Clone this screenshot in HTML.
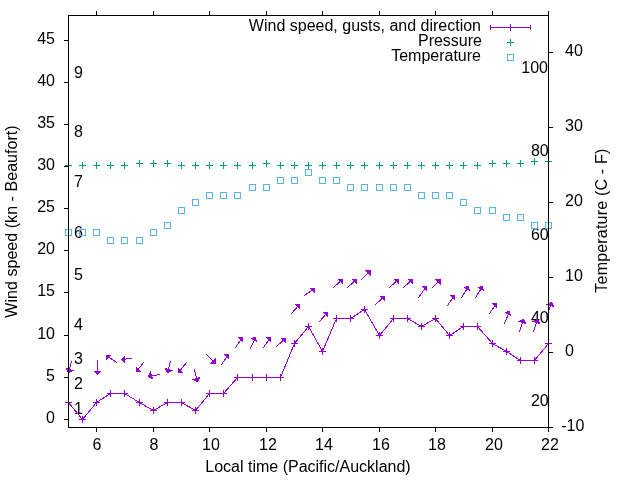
<!DOCTYPE html>
<html><head><meta charset="utf-8"><title>Wind plot</title>
<style>
html,body{margin:0;padding:0;background:#fff;}
svg{display:block;}
text{font-family:"Liberation Sans",sans-serif;font-size:16px;fill:#000;}
</style></head><body>
<svg width="640" height="480" viewBox="0 0 640 480" shape-rendering="crispEdges">
<rect x="0" y="0" width="640" height="480" fill="#fff"/>
<text x="481" y="31" text-anchor="end">Wind speed, gusts, and direction</text>
<text x="482" y="46" text-anchor="end">Pressure</text>
<text x="481" y="61" text-anchor="end">Temperature</text>
<text x="74" y="414" text-anchor="start">1</text>
<text x="74" y="389" text-anchor="start">2</text>
<text x="74" y="364" text-anchor="start">3</text>
<text x="74" y="330" text-anchor="start">4</text>
<text x="74" y="280" text-anchor="start">5</text>
<text x="74" y="238" text-anchor="start">6</text>
<text x="74" y="187" text-anchor="start">7</text>
<text x="74" y="137" text-anchor="start">8</text>
<text x="74" y="78" text-anchor="start">9</text>
<text x="548.7" y="406" text-anchor="end">20</text>
<text x="548.7" y="323" text-anchor="end">40</text>
<text x="548.7" y="240" text-anchor="end">60</text>
<text x="548.7" y="156" text-anchor="end">80</text>
<text x="548" y="73" text-anchor="end">100</text>
<polyline points="68.5,402.5 82.5,419.5 96.5,402.5 110.5,393.5 124.5,393.5 139.5,402.5 153.5,410.5 167.5,402.5 181.5,402.5 195.5,410.5 209.5,393.5 223.5,393.5 237.5,377.5 252.5,377.5 266.5,377.5 280.5,377.5 294.5,343.5 308.5,326.5 322.5,351.5 336.5,318.5 350.5,318.5 364.5,309.5 379.5,335.5 393.5,318.5 407.5,318.5 421.5,326.5 435.5,318.5 449.5,335.5 463.5,326.5 477.5,326.5 492.5,343.5 506.5,351.5 520.5,360.5 534.5,360.5 548.5,343.5" fill="none" stroke="#9400D3" stroke-width="1"/>
<rect x="65" y="402" width="7" height="1" fill="#9400D3"/>
<rect x="68" y="399" width="1" height="7" fill="#9400D3"/>
<rect x="79" y="419" width="7" height="1" fill="#9400D3"/>
<rect x="82" y="416" width="1" height="7" fill="#9400D3"/>
<rect x="93" y="402" width="7" height="1" fill="#9400D3"/>
<rect x="96" y="399" width="1" height="7" fill="#9400D3"/>
<rect x="107" y="393" width="7" height="1" fill="#9400D3"/>
<rect x="110" y="390" width="1" height="7" fill="#9400D3"/>
<rect x="121" y="393" width="7" height="1" fill="#9400D3"/>
<rect x="124" y="390" width="1" height="7" fill="#9400D3"/>
<rect x="136" y="402" width="7" height="1" fill="#9400D3"/>
<rect x="139" y="399" width="1" height="7" fill="#9400D3"/>
<rect x="150" y="410" width="7" height="1" fill="#9400D3"/>
<rect x="153" y="407" width="1" height="7" fill="#9400D3"/>
<rect x="164" y="402" width="7" height="1" fill="#9400D3"/>
<rect x="167" y="399" width="1" height="7" fill="#9400D3"/>
<rect x="178" y="402" width="7" height="1" fill="#9400D3"/>
<rect x="181" y="399" width="1" height="7" fill="#9400D3"/>
<rect x="192" y="410" width="7" height="1" fill="#9400D3"/>
<rect x="195" y="407" width="1" height="7" fill="#9400D3"/>
<rect x="206" y="393" width="7" height="1" fill="#9400D3"/>
<rect x="209" y="390" width="1" height="7" fill="#9400D3"/>
<rect x="220" y="393" width="7" height="1" fill="#9400D3"/>
<rect x="223" y="390" width="1" height="7" fill="#9400D3"/>
<rect x="234" y="377" width="7" height="1" fill="#9400D3"/>
<rect x="237" y="374" width="1" height="7" fill="#9400D3"/>
<rect x="249" y="377" width="7" height="1" fill="#9400D3"/>
<rect x="252" y="374" width="1" height="7" fill="#9400D3"/>
<rect x="263" y="377" width="7" height="1" fill="#9400D3"/>
<rect x="266" y="374" width="1" height="7" fill="#9400D3"/>
<rect x="277" y="377" width="7" height="1" fill="#9400D3"/>
<rect x="280" y="374" width="1" height="7" fill="#9400D3"/>
<rect x="291" y="343" width="7" height="1" fill="#9400D3"/>
<rect x="294" y="340" width="1" height="7" fill="#9400D3"/>
<rect x="305" y="326" width="7" height="1" fill="#9400D3"/>
<rect x="308" y="323" width="1" height="7" fill="#9400D3"/>
<rect x="319" y="351" width="7" height="1" fill="#9400D3"/>
<rect x="322" y="348" width="1" height="7" fill="#9400D3"/>
<rect x="333" y="318" width="7" height="1" fill="#9400D3"/>
<rect x="336" y="315" width="1" height="7" fill="#9400D3"/>
<rect x="347" y="318" width="7" height="1" fill="#9400D3"/>
<rect x="350" y="315" width="1" height="7" fill="#9400D3"/>
<rect x="361" y="309" width="7" height="1" fill="#9400D3"/>
<rect x="364" y="306" width="1" height="7" fill="#9400D3"/>
<rect x="376" y="335" width="7" height="1" fill="#9400D3"/>
<rect x="379" y="332" width="1" height="7" fill="#9400D3"/>
<rect x="390" y="318" width="7" height="1" fill="#9400D3"/>
<rect x="393" y="315" width="1" height="7" fill="#9400D3"/>
<rect x="404" y="318" width="7" height="1" fill="#9400D3"/>
<rect x="407" y="315" width="1" height="7" fill="#9400D3"/>
<rect x="418" y="326" width="7" height="1" fill="#9400D3"/>
<rect x="421" y="323" width="1" height="7" fill="#9400D3"/>
<rect x="432" y="318" width="7" height="1" fill="#9400D3"/>
<rect x="435" y="315" width="1" height="7" fill="#9400D3"/>
<rect x="446" y="335" width="7" height="1" fill="#9400D3"/>
<rect x="449" y="332" width="1" height="7" fill="#9400D3"/>
<rect x="460" y="326" width="7" height="1" fill="#9400D3"/>
<rect x="463" y="323" width="1" height="7" fill="#9400D3"/>
<rect x="474" y="326" width="7" height="1" fill="#9400D3"/>
<rect x="477" y="323" width="1" height="7" fill="#9400D3"/>
<rect x="489" y="343" width="7" height="1" fill="#9400D3"/>
<rect x="492" y="340" width="1" height="7" fill="#9400D3"/>
<rect x="503" y="351" width="7" height="1" fill="#9400D3"/>
<rect x="506" y="348" width="1" height="7" fill="#9400D3"/>
<rect x="517" y="360" width="7" height="1" fill="#9400D3"/>
<rect x="520" y="357" width="1" height="7" fill="#9400D3"/>
<rect x="531" y="360" width="7" height="1" fill="#9400D3"/>
<rect x="534" y="357" width="1" height="7" fill="#9400D3"/>
<rect x="545" y="343" width="7" height="1" fill="#9400D3"/>
<rect x="548" y="340" width="1" height="7" fill="#9400D3"/>
<rect x="490" y="27" width="41" height="1" fill="#9400D3"/>
<rect x="490" y="25" width="1" height="5" fill="#9400D3"/>
<rect x="530" y="25" width="1" height="5" fill="#9400D3"/>
<rect x="510" y="24" width="1" height="7" fill="#9400D3"/>
<line x1="71.5" y1="361.5" x2="68.5" y2="372.5" stroke="#9400D3" stroke-width="1" stroke-linecap="square"/>
<polygon points="68.5,372.5 66.5,368.5 72.5,370.5" fill="#9400D3" stroke="#9400D3" stroke-width="1" stroke-linejoin="miter"/>
<line x1="97.5" y1="360.5" x2="97.5" y2="374.5" stroke="#9400D3" stroke-width="1" stroke-linecap="square"/>
<polygon points="97.5,374.5 94.5,371.5 100.5,371.5" fill="#9400D3" stroke="#9400D3" stroke-width="1" stroke-linejoin="miter"/>
<line x1="116.5" y1="362.5" x2="106.5" y2="355.5" stroke="#9400D3" stroke-width="1" stroke-linecap="square"/>
<polygon points="106.5,355.5 110.5,355.5 106.5,359.5" fill="#9400D3" stroke="#9400D3" stroke-width="1" stroke-linejoin="miter"/>
<line x1="131.5" y1="358.5" x2="121.5" y2="359.5" stroke="#9400D3" stroke-width="1" stroke-linecap="square"/>
<polygon points="121.5,359.5 124.5,356.5 124.5,362.5" fill="#9400D3" stroke="#9400D3" stroke-width="1" stroke-linejoin="miter"/>
<line x1="143.5" y1="362.5" x2="136.5" y2="371.5" stroke="#9400D3" stroke-width="1" stroke-linecap="square"/>
<polygon points="136.5,371.5 136.5,367.5 140.5,371.5" fill="#9400D3" stroke="#9400D3" stroke-width="1" stroke-linejoin="miter"/>
<line x1="159.5" y1="374.5" x2="148.5" y2="376.5" stroke="#9400D3" stroke-width="1" stroke-linecap="square"/>
<polygon points="148.5,376.5 150.5,372.5 152.5,378.5" fill="#9400D3" stroke="#9400D3" stroke-width="1" stroke-linejoin="miter"/>
<line x1="170.5" y1="361.5" x2="167.5" y2="372.5" stroke="#9400D3" stroke-width="1" stroke-linecap="square"/>
<polygon points="167.5,372.5 165.5,368.5 171.5,370.5" fill="#9400D3" stroke="#9400D3" stroke-width="1" stroke-linejoin="miter"/>
<line x1="186.5" y1="362.5" x2="178.5" y2="372.5" stroke="#9400D3" stroke-width="1" stroke-linecap="square"/>
<polygon points="178.5,372.5 178.5,368.5 182.5,372.5" fill="#9400D3" stroke="#9400D3" stroke-width="1" stroke-linejoin="miter"/>
<line x1="194.5" y1="369.5" x2="197.5" y2="381.5" stroke="#9400D3" stroke-width="1" stroke-linecap="square"/>
<polygon points="197.5,381.5 193.5,379.5 199.5,377.5" fill="#9400D3" stroke="#9400D3" stroke-width="1" stroke-linejoin="miter"/>
<line x1="206.5" y1="354.5" x2="215.5" y2="363.5" stroke="#9400D3" stroke-width="1" stroke-linecap="square"/>
<polygon points="215.5,363.5 210.5,363.5 215.5,358.5" fill="#9400D3" stroke="#9400D3" stroke-width="1" stroke-linejoin="miter"/>
<line x1="221.5" y1="364.5" x2="228.5" y2="354.5" stroke="#9400D3" stroke-width="1" stroke-linecap="square"/>
<polygon points="228.5,354.5 228.5,358.5 224.5,354.5" fill="#9400D3" stroke="#9400D3" stroke-width="1" stroke-linejoin="miter"/>
<line x1="235.5" y1="347.5" x2="242.5" y2="337.5" stroke="#9400D3" stroke-width="1" stroke-linecap="square"/>
<polygon points="242.5,337.5 242.5,341.5 238.5,337.5" fill="#9400D3" stroke="#9400D3" stroke-width="1" stroke-linejoin="miter"/>
<line x1="250.5" y1="348.5" x2="255.5" y2="337.5" stroke="#9400D3" stroke-width="1" stroke-linecap="square"/>
<polygon points="255.5,337.5 256.5,341.5 251.5,338.5" fill="#9400D3" stroke="#9400D3" stroke-width="1" stroke-linejoin="miter"/>
<line x1="263.5" y1="347.5" x2="270.5" y2="337.5" stroke="#9400D3" stroke-width="1" stroke-linecap="square"/>
<polygon points="270.5,337.5 270.5,341.5 266.5,337.5" fill="#9400D3" stroke="#9400D3" stroke-width="1" stroke-linejoin="miter"/>
<line x1="276.5" y1="346.5" x2="285.5" y2="338.5" stroke="#9400D3" stroke-width="1" stroke-linecap="square"/>
<polygon points="285.5,338.5 285.5,342.5 281.5,338.5" fill="#9400D3" stroke="#9400D3" stroke-width="1" stroke-linejoin="miter"/>
<line x1="291.5" y1="313.5" x2="299.5" y2="304.5" stroke="#9400D3" stroke-width="1" stroke-linecap="square"/>
<polygon points="299.5,304.5 299.5,308.5 295.5,304.5" fill="#9400D3" stroke="#9400D3" stroke-width="1" stroke-linejoin="miter"/>
<line x1="304.5" y1="295.5" x2="314.5" y2="288.5" stroke="#9400D3" stroke-width="1" stroke-linecap="square"/>
<polygon points="314.5,288.5 314.5,292.5 310.5,288.5" fill="#9400D3" stroke="#9400D3" stroke-width="1" stroke-linejoin="miter"/>
<line x1="319.5" y1="321.5" x2="327.5" y2="312.5" stroke="#9400D3" stroke-width="1" stroke-linecap="square"/>
<polygon points="327.5,312.5 327.5,316.5 323.5,312.5" fill="#9400D3" stroke="#9400D3" stroke-width="1" stroke-linejoin="miter"/>
<line x1="333.5" y1="287.5" x2="342.5" y2="279.5" stroke="#9400D3" stroke-width="1" stroke-linecap="square"/>
<polygon points="342.5,279.5 342.5,283.5 338.5,279.5" fill="#9400D3" stroke="#9400D3" stroke-width="1" stroke-linejoin="miter"/>
<line x1="347.5" y1="287.5" x2="356.5" y2="279.5" stroke="#9400D3" stroke-width="1" stroke-linecap="square"/>
<polygon points="356.5,279.5 356.5,283.5 352.5,279.5" fill="#9400D3" stroke="#9400D3" stroke-width="1" stroke-linejoin="miter"/>
<line x1="361.5" y1="279.5" x2="370.5" y2="270.5" stroke="#9400D3" stroke-width="1" stroke-linecap="square"/>
<polygon points="370.5,270.5 370.5,275.5 365.5,270.5" fill="#9400D3" stroke="#9400D3" stroke-width="1" stroke-linejoin="miter"/>
<line x1="375.5" y1="304.5" x2="384.5" y2="296.5" stroke="#9400D3" stroke-width="1" stroke-linecap="square"/>
<polygon points="384.5,296.5 384.5,300.5 380.5,296.5" fill="#9400D3" stroke="#9400D3" stroke-width="1" stroke-linejoin="miter"/>
<line x1="389.5" y1="287.5" x2="398.5" y2="279.5" stroke="#9400D3" stroke-width="1" stroke-linecap="square"/>
<polygon points="398.5,279.5 398.5,283.5 394.5,279.5" fill="#9400D3" stroke="#9400D3" stroke-width="1" stroke-linejoin="miter"/>
<line x1="403.5" y1="287.5" x2="412.5" y2="279.5" stroke="#9400D3" stroke-width="1" stroke-linecap="square"/>
<polygon points="412.5,279.5 412.5,283.5 408.5,279.5" fill="#9400D3" stroke="#9400D3" stroke-width="1" stroke-linejoin="miter"/>
<line x1="418.5" y1="297.5" x2="426.5" y2="286.5" stroke="#9400D3" stroke-width="1" stroke-linecap="square"/>
<polygon points="426.5,286.5 426.5,290.5 422.5,286.5" fill="#9400D3" stroke="#9400D3" stroke-width="1" stroke-linejoin="miter"/>
<line x1="432.5" y1="287.5" x2="440.5" y2="279.5" stroke="#9400D3" stroke-width="1" stroke-linecap="square"/>
<polygon points="440.5,279.5 440.5,284.5 435.5,279.5" fill="#9400D3" stroke="#9400D3" stroke-width="1" stroke-linejoin="miter"/>
<line x1="447.5" y1="305.5" x2="454.5" y2="295.5" stroke="#9400D3" stroke-width="1" stroke-linecap="square"/>
<polygon points="454.5,295.5 454.5,299.5 450.5,295.5" fill="#9400D3" stroke="#9400D3" stroke-width="1" stroke-linejoin="miter"/>
<line x1="461.5" y1="297.5" x2="468.5" y2="286.5" stroke="#9400D3" stroke-width="1" stroke-linecap="square"/>
<polygon points="468.5,286.5 469.5,290.5 464.5,287.5" fill="#9400D3" stroke="#9400D3" stroke-width="1" stroke-linejoin="miter"/>
<line x1="475.5" y1="297.5" x2="482.5" y2="286.5" stroke="#9400D3" stroke-width="1" stroke-linecap="square"/>
<polygon points="482.5,286.5 483.5,290.5 478.5,287.5" fill="#9400D3" stroke="#9400D3" stroke-width="1" stroke-linejoin="miter"/>
<line x1="489.5" y1="313.5" x2="496.5" y2="303.5" stroke="#9400D3" stroke-width="1" stroke-linecap="square"/>
<polygon points="496.5,303.5 496.5,307.5 492.5,303.5" fill="#9400D3" stroke="#9400D3" stroke-width="1" stroke-linejoin="miter"/>
<line x1="504.5" y1="323.5" x2="509.5" y2="311.5" stroke="#9400D3" stroke-width="1" stroke-linecap="square"/>
<polygon points="509.5,311.5 510.5,315.5 505.5,312.5" fill="#9400D3" stroke="#9400D3" stroke-width="1" stroke-linejoin="miter"/>
<line x1="519.5" y1="331.5" x2="523.5" y2="319.5" stroke="#9400D3" stroke-width="1" stroke-linecap="square"/>
<polygon points="523.5,319.5 525.5,323.5 519.5,321.5" fill="#9400D3" stroke="#9400D3" stroke-width="1" stroke-linejoin="miter"/>
<line x1="533.5" y1="331.5" x2="537.5" y2="319.5" stroke="#9400D3" stroke-width="1" stroke-linecap="square"/>
<polygon points="537.5,319.5 539.5,323.5 533.5,321.5" fill="#9400D3" stroke="#9400D3" stroke-width="1" stroke-linejoin="miter"/>
<line x1="547.5" y1="314.5" x2="551.5" y2="302.5" stroke="#9400D3" stroke-width="1" stroke-linecap="square"/>
<polygon points="551.5,302.5 553.5,306.5 547.5,304.5" fill="#9400D3" stroke="#9400D3" stroke-width="1" stroke-linejoin="miter"/>
<rect x="65" y="165" width="7" height="1" fill="#009E73"/>
<rect x="68" y="162" width="1" height="7" fill="#009E73"/>
<rect x="79" y="165" width="7" height="1" fill="#009E73"/>
<rect x="82" y="162" width="1" height="7" fill="#009E73"/>
<rect x="93" y="165" width="7" height="1" fill="#009E73"/>
<rect x="96" y="162" width="1" height="7" fill="#009E73"/>
<rect x="107" y="165" width="7" height="1" fill="#009E73"/>
<rect x="110" y="162" width="1" height="7" fill="#009E73"/>
<rect x="121" y="165" width="7" height="1" fill="#009E73"/>
<rect x="124" y="162" width="1" height="7" fill="#009E73"/>
<rect x="136" y="163" width="7" height="1" fill="#009E73"/>
<rect x="139" y="160" width="1" height="7" fill="#009E73"/>
<rect x="150" y="163" width="7" height="1" fill="#009E73"/>
<rect x="153" y="160" width="1" height="7" fill="#009E73"/>
<rect x="164" y="163" width="7" height="1" fill="#009E73"/>
<rect x="167" y="160" width="1" height="7" fill="#009E73"/>
<rect x="178" y="165" width="7" height="1" fill="#009E73"/>
<rect x="181" y="162" width="1" height="7" fill="#009E73"/>
<rect x="192" y="165" width="7" height="1" fill="#009E73"/>
<rect x="195" y="162" width="1" height="7" fill="#009E73"/>
<rect x="206" y="165" width="7" height="1" fill="#009E73"/>
<rect x="209" y="162" width="1" height="7" fill="#009E73"/>
<rect x="220" y="165" width="7" height="1" fill="#009E73"/>
<rect x="223" y="162" width="1" height="7" fill="#009E73"/>
<rect x="234" y="165" width="7" height="1" fill="#009E73"/>
<rect x="237" y="162" width="1" height="7" fill="#009E73"/>
<rect x="249" y="165" width="7" height="1" fill="#009E73"/>
<rect x="252" y="162" width="1" height="7" fill="#009E73"/>
<rect x="263" y="163" width="7" height="1" fill="#009E73"/>
<rect x="266" y="160" width="1" height="7" fill="#009E73"/>
<rect x="277" y="165" width="7" height="1" fill="#009E73"/>
<rect x="280" y="162" width="1" height="7" fill="#009E73"/>
<rect x="291" y="165" width="7" height="1" fill="#009E73"/>
<rect x="294" y="162" width="1" height="7" fill="#009E73"/>
<rect x="305" y="165" width="7" height="1" fill="#009E73"/>
<rect x="308" y="162" width="1" height="7" fill="#009E73"/>
<rect x="319" y="165" width="7" height="1" fill="#009E73"/>
<rect x="322" y="162" width="1" height="7" fill="#009E73"/>
<rect x="333" y="165" width="7" height="1" fill="#009E73"/>
<rect x="336" y="162" width="1" height="7" fill="#009E73"/>
<rect x="347" y="165" width="7" height="1" fill="#009E73"/>
<rect x="350" y="162" width="1" height="7" fill="#009E73"/>
<rect x="361" y="165" width="7" height="1" fill="#009E73"/>
<rect x="364" y="162" width="1" height="7" fill="#009E73"/>
<rect x="376" y="165" width="7" height="1" fill="#009E73"/>
<rect x="379" y="162" width="1" height="7" fill="#009E73"/>
<rect x="390" y="165" width="7" height="1" fill="#009E73"/>
<rect x="393" y="162" width="1" height="7" fill="#009E73"/>
<rect x="404" y="165" width="7" height="1" fill="#009E73"/>
<rect x="407" y="162" width="1" height="7" fill="#009E73"/>
<rect x="418" y="165" width="7" height="1" fill="#009E73"/>
<rect x="421" y="162" width="1" height="7" fill="#009E73"/>
<rect x="432" y="165" width="7" height="1" fill="#009E73"/>
<rect x="435" y="162" width="1" height="7" fill="#009E73"/>
<rect x="446" y="165" width="7" height="1" fill="#009E73"/>
<rect x="449" y="162" width="1" height="7" fill="#009E73"/>
<rect x="460" y="165" width="7" height="1" fill="#009E73"/>
<rect x="463" y="162" width="1" height="7" fill="#009E73"/>
<rect x="474" y="165" width="7" height="1" fill="#009E73"/>
<rect x="477" y="162" width="1" height="7" fill="#009E73"/>
<rect x="489" y="163" width="7" height="1" fill="#009E73"/>
<rect x="492" y="160" width="1" height="7" fill="#009E73"/>
<rect x="503" y="163" width="7" height="1" fill="#009E73"/>
<rect x="506" y="160" width="1" height="7" fill="#009E73"/>
<rect x="517" y="163" width="7" height="1" fill="#009E73"/>
<rect x="520" y="160" width="1" height="7" fill="#009E73"/>
<rect x="531" y="161" width="7" height="1" fill="#009E73"/>
<rect x="534" y="158" width="1" height="7" fill="#009E73"/>
<rect x="545" y="161" width="7" height="1" fill="#009E73"/>
<rect x="548" y="158" width="1" height="7" fill="#009E73"/>
<rect x="507" y="42" width="7" height="1" fill="#009E73"/>
<rect x="510" y="39" width="1" height="7" fill="#009E73"/>
<rect x="65.5" y="229.5" width="6" height="6" fill="none" stroke="#56B4E9" stroke-width="1"/>
<rect x="79.5" y="229.5" width="6" height="6" fill="none" stroke="#56B4E9" stroke-width="1"/>
<rect x="93.5" y="229.5" width="6" height="6" fill="none" stroke="#56B4E9" stroke-width="1"/>
<rect x="107.5" y="237.5" width="6" height="6" fill="none" stroke="#56B4E9" stroke-width="1"/>
<rect x="121.5" y="237.5" width="6" height="6" fill="none" stroke="#56B4E9" stroke-width="1"/>
<rect x="136.5" y="237.5" width="6" height="6" fill="none" stroke="#56B4E9" stroke-width="1"/>
<rect x="150.5" y="229.5" width="6" height="6" fill="none" stroke="#56B4E9" stroke-width="1"/>
<rect x="164.5" y="222.5" width="6" height="6" fill="none" stroke="#56B4E9" stroke-width="1"/>
<rect x="178.5" y="207.5" width="6" height="6" fill="none" stroke="#56B4E9" stroke-width="1"/>
<rect x="192.5" y="199.5" width="6" height="6" fill="none" stroke="#56B4E9" stroke-width="1"/>
<rect x="206.5" y="192.5" width="6" height="6" fill="none" stroke="#56B4E9" stroke-width="1"/>
<rect x="220.5" y="192.5" width="6" height="6" fill="none" stroke="#56B4E9" stroke-width="1"/>
<rect x="234.5" y="192.5" width="6" height="6" fill="none" stroke="#56B4E9" stroke-width="1"/>
<rect x="249.5" y="184.5" width="6" height="6" fill="none" stroke="#56B4E9" stroke-width="1"/>
<rect x="263.5" y="184.5" width="6" height="6" fill="none" stroke="#56B4E9" stroke-width="1"/>
<rect x="277.5" y="177.5" width="6" height="6" fill="none" stroke="#56B4E9" stroke-width="1"/>
<rect x="291.5" y="177.5" width="6" height="6" fill="none" stroke="#56B4E9" stroke-width="1"/>
<rect x="305.5" y="169.5" width="6" height="6" fill="none" stroke="#56B4E9" stroke-width="1"/>
<rect x="319.5" y="177.5" width="6" height="6" fill="none" stroke="#56B4E9" stroke-width="1"/>
<rect x="333.5" y="177.5" width="6" height="6" fill="none" stroke="#56B4E9" stroke-width="1"/>
<rect x="347.5" y="184.5" width="6" height="6" fill="none" stroke="#56B4E9" stroke-width="1"/>
<rect x="361.5" y="184.5" width="6" height="6" fill="none" stroke="#56B4E9" stroke-width="1"/>
<rect x="376.5" y="184.5" width="6" height="6" fill="none" stroke="#56B4E9" stroke-width="1"/>
<rect x="390.5" y="184.5" width="6" height="6" fill="none" stroke="#56B4E9" stroke-width="1"/>
<rect x="404.5" y="184.5" width="6" height="6" fill="none" stroke="#56B4E9" stroke-width="1"/>
<rect x="418.5" y="192.5" width="6" height="6" fill="none" stroke="#56B4E9" stroke-width="1"/>
<rect x="432.5" y="192.5" width="6" height="6" fill="none" stroke="#56B4E9" stroke-width="1"/>
<rect x="446.5" y="192.5" width="6" height="6" fill="none" stroke="#56B4E9" stroke-width="1"/>
<rect x="460.5" y="199.5" width="6" height="6" fill="none" stroke="#56B4E9" stroke-width="1"/>
<rect x="474.5" y="207.5" width="6" height="6" fill="none" stroke="#56B4E9" stroke-width="1"/>
<rect x="489.5" y="207.5" width="6" height="6" fill="none" stroke="#56B4E9" stroke-width="1"/>
<rect x="503.5" y="214.5" width="6" height="6" fill="none" stroke="#56B4E9" stroke-width="1"/>
<rect x="517.5" y="214.5" width="6" height="6" fill="none" stroke="#56B4E9" stroke-width="1"/>
<rect x="531.5" y="222.5" width="6" height="6" fill="none" stroke="#56B4E9" stroke-width="1"/>
<rect x="545.5" y="222.5" width="6" height="6" fill="none" stroke="#56B4E9" stroke-width="1"/>
<rect x="507.5" y="54.5" width="6" height="6" fill="none" stroke="#56B4E9" stroke-width="1"/>
<rect x="68" y="15" width="481" height="1" fill="#000"/>
<rect x="68" y="427" width="481" height="1" fill="#000"/>
<rect x="68" y="15" width="1" height="413" fill="#000"/>
<rect x="548" y="15" width="1" height="413" fill="#000"/>
<rect x="64" y="419" width="4" height="1" fill="#000"/>
<text x="55" y="423" text-anchor="end">0</text>
<rect x="64" y="377" width="4" height="1" fill="#000"/>
<text x="55" y="381" text-anchor="end">5</text>
<rect x="64" y="335" width="4" height="1" fill="#000"/>
<text x="55" y="339" text-anchor="end">10</text>
<rect x="64" y="292" width="4" height="1" fill="#000"/>
<text x="55" y="296" text-anchor="end">15</text>
<rect x="64" y="250" width="4" height="1" fill="#000"/>
<text x="55" y="254" text-anchor="end">20</text>
<rect x="64" y="208" width="4" height="1" fill="#000"/>
<text x="55" y="212" text-anchor="end">25</text>
<rect x="64" y="166" width="4" height="1" fill="#000"/>
<text x="55" y="170" text-anchor="end">30</text>
<rect x="64" y="124" width="4" height="1" fill="#000"/>
<text x="55" y="128" text-anchor="end">35</text>
<rect x="64" y="82" width="4" height="1" fill="#000"/>
<text x="55" y="86" text-anchor="end">40</text>
<rect x="64" y="40" width="4" height="1" fill="#000"/>
<text x="55" y="44" text-anchor="end">45</text>
<rect x="549" y="427" width="4" height="1" fill="#000"/>
<text x="561.25" y="431" text-anchor="start">-10</text>
<rect x="549" y="352" width="4" height="1" fill="#000"/>
<text x="565" y="356" text-anchor="start">0</text>
<rect x="549" y="277" width="4" height="1" fill="#000"/>
<text x="565" y="281" text-anchor="start">10</text>
<rect x="549" y="202" width="4" height="1" fill="#000"/>
<text x="565" y="206" text-anchor="start">20</text>
<rect x="549" y="127" width="4" height="1" fill="#000"/>
<text x="565" y="131" text-anchor="start">30</text>
<rect x="549" y="52" width="4" height="1" fill="#000"/>
<text x="565" y="56" text-anchor="start">40</text>
<rect x="96" y="11" width="1" height="4" fill="#000"/>
<rect x="96" y="428" width="1" height="4" fill="#000"/>
<text x="97" y="450" text-anchor="middle">6</text>
<rect x="153" y="11" width="1" height="4" fill="#000"/>
<rect x="153" y="428" width="1" height="4" fill="#000"/>
<text x="154" y="450" text-anchor="middle">8</text>
<rect x="209" y="11" width="1" height="4" fill="#000"/>
<rect x="209" y="428" width="1" height="4" fill="#000"/>
<text x="211" y="450" text-anchor="middle">10</text>
<rect x="266" y="11" width="1" height="4" fill="#000"/>
<rect x="266" y="428" width="1" height="4" fill="#000"/>
<text x="268" y="450" text-anchor="middle">12</text>
<rect x="322" y="11" width="1" height="4" fill="#000"/>
<rect x="322" y="428" width="1" height="4" fill="#000"/>
<text x="324" y="450" text-anchor="middle">14</text>
<rect x="379" y="11" width="1" height="4" fill="#000"/>
<rect x="379" y="428" width="1" height="4" fill="#000"/>
<text x="381" y="450" text-anchor="middle">16</text>
<rect x="435" y="11" width="1" height="4" fill="#000"/>
<rect x="435" y="428" width="1" height="4" fill="#000"/>
<text x="437" y="450" text-anchor="middle">18</text>
<rect x="492" y="11" width="1" height="4" fill="#000"/>
<rect x="492" y="428" width="1" height="4" fill="#000"/>
<text x="494" y="450" text-anchor="middle">20</text>
<rect x="548" y="11" width="1" height="4" fill="#000"/>
<rect x="548" y="428" width="1" height="4" fill="#000"/>
<text x="550" y="450" text-anchor="middle">22</text>
<text x="308" y="472" text-anchor="middle">Local time (Pacific/Auckland)</text>
<text transform="translate(17,221.5) rotate(-90)" text-anchor="middle" letter-spacing="0.05">Wind speed (kn - Beaufort)</text>
<text transform="translate(607,220.6) rotate(-90)" text-anchor="middle" letter-spacing="0.19">Temperature (C - F)</text>
</svg>
</body></html>
